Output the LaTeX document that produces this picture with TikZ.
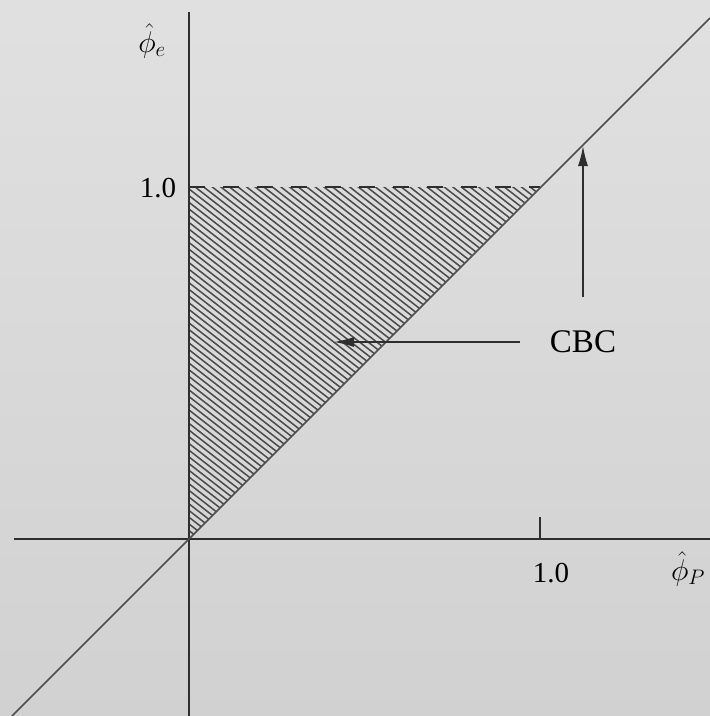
\documentclass[tikz,border=0pt]{standalone}
\usepackage{fix-cm}
\usepackage{fontspec}
\setmainfont{Liberation Serif}
\usetikzlibrary{arrows.meta}
\definecolor{ink}{HTML}{2E2E2E}
\definecolor{hatchc}{HTML}{4A4A4A}
\tikzset{
  axis/.style={line width=2.4pt, draw=ink},
  diag/.style={line width=1.6pt, draw=ink!85},
  hatchline/.style={line width=1.5pt, draw=hatchc},
  dashtop/.style={line width=1.8pt, draw=ink, dash pattern=on 16pt off 18pt},
  pointer/.style={line width=1.4pt, draw=ink, -{Latex[length=20pt,width=10pt]}},
  lbl/.style={font=\fontsize{29}{33}\selectfont, inner sep=0pt},
  mlbl/.style={font=\fontsize{30}{34}\selectfont, inner sep=0pt},
}
\begin{document}
\begin{tikzpicture}[x=1pt,y=-1pt]
\shade[top color=black!12, bottom color=black!18] (0,0) rectangle (710,716);
\useasboundingbox (0,0) rectangle (710,716);
% key points
\coordinate (O) at (189,539);
\coordinate (Ytop) at (189,12);
\coordinate (Ybot) at (189,716);
\coordinate (Xleft) at (14,539);
\coordinate (Xright) at (710,539);
\coordinate (Dlo) at (12,716);
\coordinate (Dhi) at (710,18);
\coordinate (Y1) at (189,187);
\coordinate (P1) at (540,187);
\coordinate (X1) at (540,539);
\coordinate (X1t) at (540,517);
% hatching
\begin{scope}
  \clip (Y1) -- (P1) -- (O) -- cycle;
  \foreach \c in {-260,-253.3,...,400}{
    \draw[hatchline] (185,{0.78*185+\c}) -- (545,{0.78*545+\c});
  }
\end{scope}
% dashed top edge
\draw[dashtop] (Y1) -- (P1);
% axes
\draw[axis] (Xleft) -- (Xright);
\draw[axis] (Ytop) -- (Ybot);
\draw[axis, line width=2pt] (X1) -- (X1t);
% diagonal
\draw[diag] (Dlo) -- (Dhi);
% labels
\node[mlbl] (ye) at (152,41) {$\hat{\phi}_e$};
\node[mlbl] (xp) at (688,569) {$\hat{\phi}_P$};
\node[lbl] (y1) at (158,188) {1.0};
\node[lbl] (x1) at (551,573) {1.0};
\node[font=\fontsize{33}{36}\selectfont, inner sep=0pt] (cbc) at (583,342) {CBC};
% pointers
\coordinate (Hs) at (520,342);
\coordinate (He) at (334,342);
\coordinate (Vs) at (583,297);
\coordinate (Ve) at (583,146);
\draw[pointer] (Hs) -- (He);
\draw[pointer] (Vs) -- (Ve);
\end{tikzpicture}
\end{document}
